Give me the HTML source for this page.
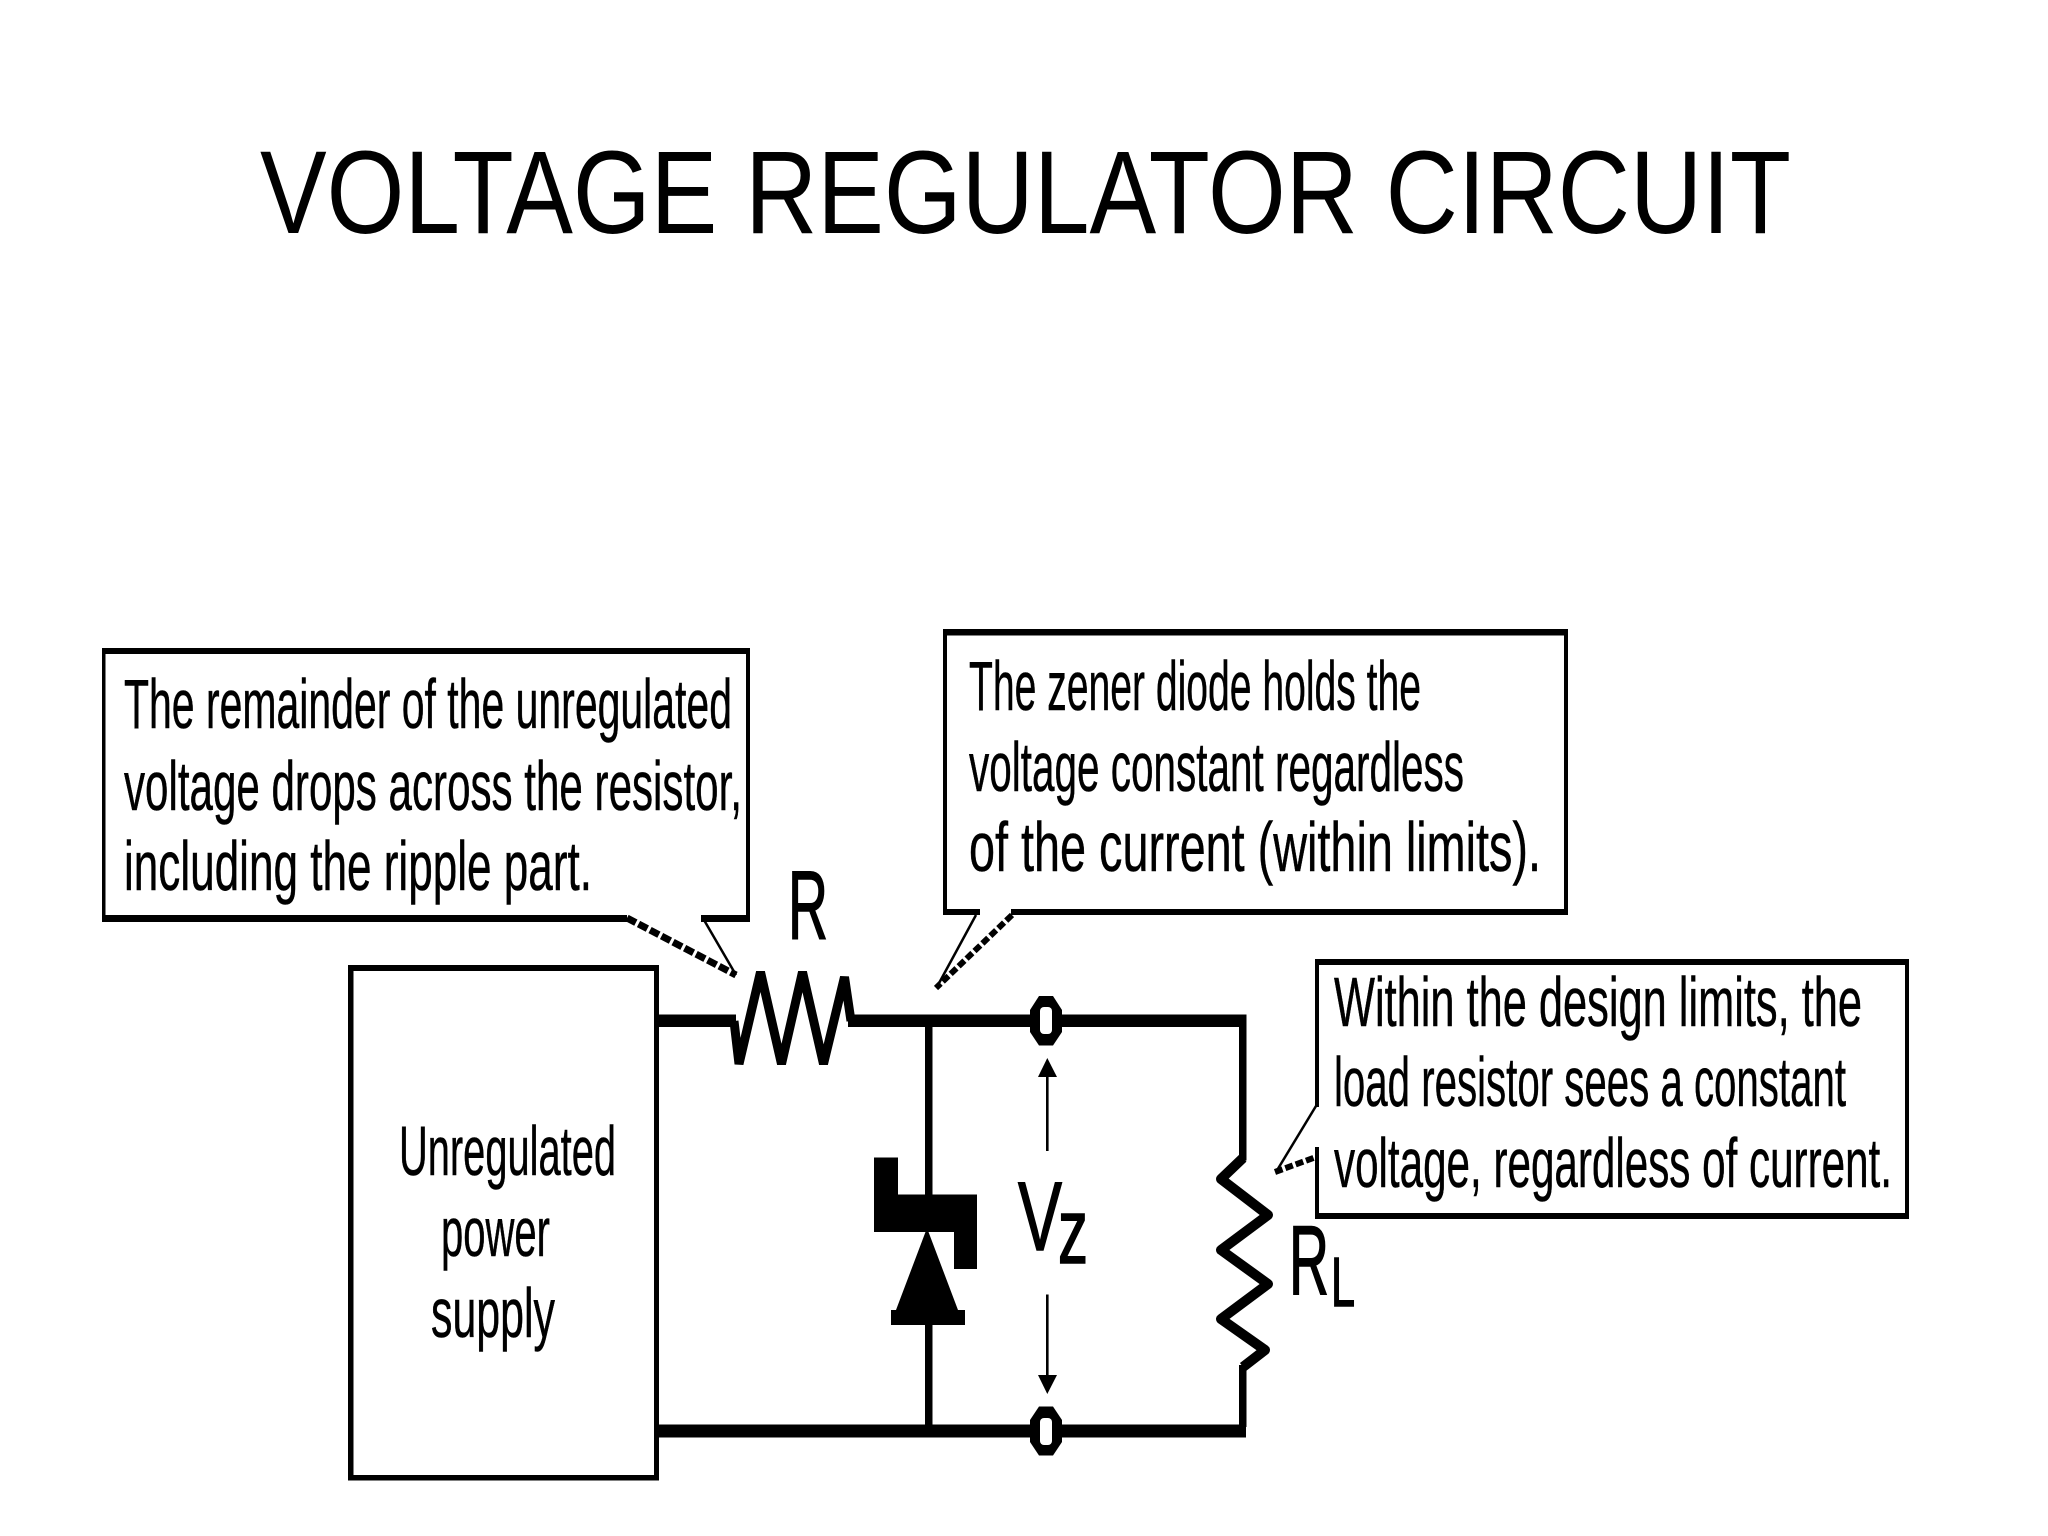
<!DOCTYPE html>
<html><head><meta charset="utf-8"><title>Voltage Regulator Circuit</title>
<style>html,body{margin:0;padding:0;background:#fff}svg{display:block}
text{font-family:"Liberation Sans",sans-serif;fill:#000}</style></head>
<body>
<svg xmlns="http://www.w3.org/2000/svg" width="2048" height="1536" viewBox="0 0 2048 1536">
<rect width="2048" height="1536" fill="#fff"/>
<text x="260" y="233" font-size="118" textLength="1531" lengthAdjust="spacingAndGlyphs">VOLTAGE REGULATOR CIRCUIT</text>

<!-- left callout -->
<g fill="#000">
<rect x="102" y="648" width="648" height="6"/>
<rect x="102" y="648" width="3.5" height="274"/>
<rect x="746" y="648" width="4" height="274"/>
<rect x="102" y="915" width="525" height="7"/>
<rect x="701" y="915" width="49" height="7"/>
</g>
<path d="M627 918L736 975" stroke="#000" stroke-width="7" stroke-dasharray="10 3" fill="none"/>
<path d="M704 920L736 975" stroke="#000" stroke-width="2.5" fill="none"/>
<g font-size="70" stroke="#000" stroke-width="0.5">
<text x="124" y="728" textLength="608" lengthAdjust="spacingAndGlyphs">The remainder of the unregulated</text>
<text x="124" y="810" textLength="618" lengthAdjust="spacingAndGlyphs">voltage drops across the resistor,</text>
<text x="124" y="890" textLength="468" lengthAdjust="spacingAndGlyphs">including the ripple part.</text>
</g>

<!-- centre callout -->
<g fill="#000">
<rect x="943" y="629" width="625" height="6.5"/>
<rect x="943" y="629" width="4" height="286"/>
<rect x="1564" y="629" width="4" height="286"/>
<rect x="943" y="909" width="37" height="6"/>
<rect x="1011" y="909" width="557" height="6"/>
</g>
<path d="M976 915L938 985" stroke="#000" stroke-width="2.5" fill="none"/>
<path d="M1012 915L936 988" stroke="#000" stroke-width="6" stroke-dasharray="8 3" fill="none"/>
<g font-size="70" stroke="#000" stroke-width="0.5">
<text x="969" y="710" textLength="452" lengthAdjust="spacingAndGlyphs">The zener diode holds the</text>
<text x="969" y="791" textLength="495" lengthAdjust="spacingAndGlyphs">voltage constant regardless</text>
<text x="969" y="871" textLength="572" lengthAdjust="spacingAndGlyphs">of the current (within limits).</text>
</g>

<!-- right callout -->
<g fill="#000">
<rect x="1315" y="959" width="594" height="6"/>
<rect x="1905" y="959" width="4" height="260"/>
<rect x="1315" y="1213" width="594" height="6"/>
<rect x="1315" y="959" width="4" height="148"/>
<rect x="1315" y="1147" width="4" height="72"/>
</g>
<path d="M1316 1106L1276 1172" stroke="#000" stroke-width="2.5" fill="none"/>
<path d="M1275 1172L1316 1157" stroke="#000" stroke-width="6" stroke-dasharray="8 3" fill="none"/>
<g font-size="70" stroke="#000" stroke-width="0.5">
<text x="1334" y="1026" textLength="528" lengthAdjust="spacingAndGlyphs">Within the design limits, the</text>
<text x="1334" y="1106" textLength="512" lengthAdjust="spacingAndGlyphs">load resistor sees a constant</text>
<text x="1334" y="1187" textLength="558" lengthAdjust="spacingAndGlyphs">voltage, regardless of current.</text>
</g>

<!-- power supply box -->
<g fill="#000">
<rect x="348" y="965" width="311" height="6"/>
<rect x="348" y="1475" width="311" height="5.5"/>
<rect x="348" y="965" width="5.5" height="515"/>
<rect x="654" y="965" width="5" height="515"/>
</g>
<g font-size="70" stroke="#000" stroke-width="0.5">
<text x="399" y="1175" textLength="217" lengthAdjust="spacingAndGlyphs">Unregulated</text>
<text x="441" y="1256" textLength="109" lengthAdjust="spacingAndGlyphs">power</text>
<text x="431" y="1337" textLength="124" lengthAdjust="spacingAndGlyphs">supply</text>
</g>

<!-- wires -->
<g fill="#000">
<rect x="658" y="1014.5" width="78" height="12.5"/>
<rect x="848" y="1014.5" width="398" height="12.5"/>
<rect x="658" y="1424.5" width="588" height="13"/>
<rect x="925" y="1027" width="7.5" height="170"/>
<rect x="925" y="1322" width="7.5" height="104"/>
<rect x="1239" y="1014.5" width="7.5" height="146"/>
<rect x="1239" y="1365" width="7.5" height="62"/>
</g>

<!-- series resistor -->
<polyline points="734,1021 739,1064 760.5,972 781.5,1064 802.5,972 823.5,1064 844.5,977 851,1021" fill="none" stroke="#000" stroke-width="9" stroke-linejoin="bevel"/>
<text x="788" y="939" font-size="97" textLength="40" lengthAdjust="spacingAndGlyphs" stroke="#000" stroke-width="1.5">R</text>

<!-- load resistor -->
<polyline points="1243,1158 1221,1179 1268,1215 1221,1250 1268,1284 1221,1319 1265,1350 1243,1367" fill="none" stroke="#000" stroke-width="10" stroke-linejoin="round"/>
<text x="1289" y="1294" font-size="98" textLength="40" lengthAdjust="spacingAndGlyphs" stroke="#000" stroke-width="1.5">R</text>
<text x="1331" y="1306" font-size="70" textLength="24" lengthAdjust="spacingAndGlyphs" stroke="#000" stroke-width="1.5">L</text>

<!-- zener -->
<path d="M874 1157.5H898V1194.5H977V1269H954V1232H874Z" fill="#000"/>
<path d="M927 1228L958 1310H965V1325H891V1310H896Z" fill="#000"/>

<!-- terminals -->
<g fill="#000">
<path d="M1039 996H1053L1062 1010V1032L1053 1045.5H1039L1030 1032V1010Z"/>
<path d="M1039 1406.5H1053L1062 1420V1442L1053 1455.5H1039L1030 1442V1420Z"/>
</g>
<g fill="#fff">
<rect x="1040" y="1007" width="12" height="27" rx="4"/>
<rect x="1040" y="1418" width="12" height="27" rx="4"/>
</g>

<!-- Vz arrows -->
<g fill="#000">
<rect x="1046" y="1070" width="2.6" height="81"/>
<rect x="1046" y="1294.5" width="2.6" height="84"/>
<path d="M1047.3 1058L1057 1077H1038Z"/>
<path d="M1047.3 1394L1057 1375H1038Z"/>
</g>
<text x="1018" y="1250" font-size="97" textLength="44" lengthAdjust="spacingAndGlyphs" stroke="#000" stroke-width="1.5">V</text>
<text x="1058" y="1263" font-size="93" textLength="30" lengthAdjust="spacingAndGlyphs" stroke="#000" stroke-width="1.5">z</text>
</svg>
</body></html>
